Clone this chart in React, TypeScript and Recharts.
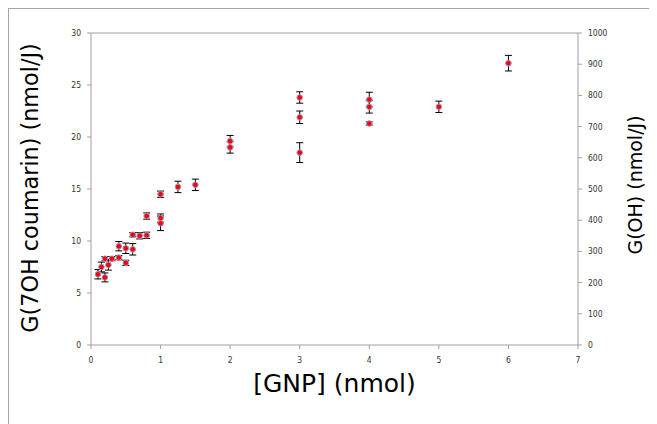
import React from 'react';
import { ScatterChart, Scatter, XAxis, YAxis, ErrorBar, Label } from 'recharts';

// [GNP] (nmol)
const gnp = [0.1, 0.15, 0.2, 0.2, 0.25, 0.3, 0.4, 0.4, 0.5, 0.5, 0.6, 0.6, 0.7, 0.8, 0.8, 1, 1, 1, 1.25, 1.5, 2, 2, 3, 3, 3, 4, 4, 4, 5, 6];
// G(7OH coumarin) (nmol/J)
const g7oh = [6.8, 7.5, 6.5, 8.3, 7.7, 8.3, 8.4, 9.5, 9.3, 7.9, 10.6, 9.2, 10.5, 10.55, 12.4, 14.5, 12.2, 11.7, 15.2, 15.4, 19.6, 19.0, 23.8, 21.9, 18.5, 23.6, 22.9, 21.3, 22.9, 27.1];
const g7ohErr = [0.45, 0.47, 0.43, 0.2, 0.5, 0.2, 0.2, 0.45, 0.5, 0.25, 0.2, 0.55, 0.3, 0.3, 0.3, 0.3, 0.4, 0.7, 0.55, 0.55, 0.55, 0.55, 0.55, 0.6, 0.95, 0.7, 0.6, 0.15, 0.55, 0.75];

const xTicks = [0, 1, 2, 3, 4, 5, 6, 7];
const leftTicks = [0, 5, 10, 15, 20, 25, 30];
const rightTicks = [0, 100, 200, 300, 400, 500, 600, 700, 800, 900, 1000];

const data = gnp.map((x, i) => ({ x, y: g7oh[i], err: g7ohErr[i] }));

const tickFont = "'DejaVu Sans Condensed', 'DejaVu Sans', sans-serif";
const titleFont = "'DejaVu Sans', sans-serif";
const axisColor = '#a0a0a0';
const tickStyle = { fontSize: 8.5, fill: '#333', fontFamily: tickFont };
const titleStyle = (size: number) => ({ fontSize: size, fill: '#000', fontFamily: titleFont });

const Marker = (props: any) => (
  <circle cx={props.cx} cy={props.cy} r={2.8} fill="#ff0000" stroke="#9a9ac8" strokeWidth={1} />
);

const App = () => (
  <div style={{ width: 648, height: 420, border: '1px solid #a6a6a6', boxSizing: 'border-box', background: '#fff' }}>
    <ScatterChart width={646} height={415} margin={{ top: 0, right: 17, bottom: 3, left: 22 }}>
      <XAxis
        xAxisId="bottom"
        type="number"
        dataKey="x"
        domain={[0, 7]}
        ticks={xTicks}
        height={76}
        tick={tickStyle}
        tickSize={4}
        tickMargin={8}
        stroke={axisColor}
      >
        <Label value="[GNP] (nmol)" position="center" style={titleStyle(25)} />
      </XAxis>
      <XAxis
        xAxisId="top"
        orientation="top"
        type="number"
        domain={[0, 7]}
        ticks={xTicks}
        allowDataOverflow
        height={24}
        tick={tickStyle}
        tickSize={4}
        tickMargin={6}
        stroke={axisColor}
      />
      <YAxis
        yAxisId="left"
        type="number"
        dataKey="y"
        domain={[0, 30]}
        ticks={leftTicks}
        width={60}
        tick={tickStyle}
        tickSize={4}
        tickMargin={6}
        stroke={axisColor}
      >
        <Label value="G(7OH coumarin) (nmol/J)" position="center" angle={-90} dx={-31} dy={-1} style={titleStyle(22.3)} />
      </YAxis>
      <YAxis
        yAxisId="right"
        orientation="right"
        type="number"
        domain={[0, 1000]}
        ticks={rightTicks}
        allowDataOverflow
        width={60}
        tick={tickStyle}
        tickSize={4}
        tickMargin={6}
        stroke={axisColor}
      >
        <Label value="G(OH) (nmol/J)" position="center" angle={-90} dx={27} dy={-4} style={titleStyle(19)} />
      </YAxis>
      <Scatter xAxisId="bottom" yAxisId="left" data={data} shape={Marker} isAnimationActive={false}>
        <ErrorBar dataKey="err" direction="y" width={3.5} stroke="#000" strokeWidth={1} />
      </Scatter>
    </ScatterChart>
  </div>
);

export default App;
